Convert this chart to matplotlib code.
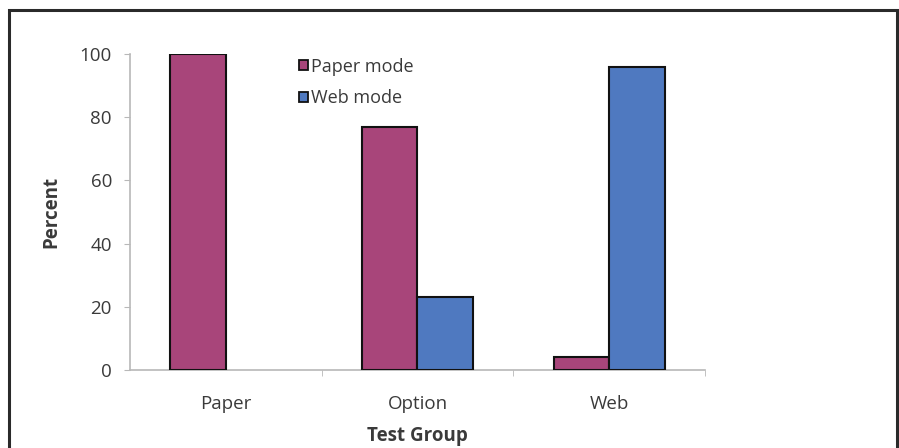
import matplotlib
matplotlib.use("Agg")
import matplotlib.pyplot as plt
from matplotlib.patches import Rectangle, Patch
import numpy as np

groups = ["Paper", "Option", "Web"]
paper_mode = [100, 77, 4]
web_mode = [0, 23, 96]
series_names = ["Paper mode", "Web mode"]
y_ticks = [0, 20, 40, 60, 80, 100]

pink = "#A8457A"
blue = "#4F79C0"
text_col = "#3a3a3a"
axis_col = "#b8b8b8"

plt.rcParams["font.family"] = ["Open Sans", "DejaVu Sans"]

fig = plt.figure(figsize=(8.99, 4.48), dpi=100)
ax = fig.add_axes([0.1446, 0.1741, 0.6396, 0.7054])

x = np.arange(len(groups))
w = 0.29
b1 = ax.bar(x - w / 2, paper_mode, w, color=pink, edgecolor="#111111",
            linewidth=1.5, zorder=3)
b2 = ax.bar(x + w / 2, web_mode, w, color=blue, edgecolor="#111111",
            linewidth=1.5, zorder=3)
# empty bars leave no outline on the baseline
for bars in (b1, b2):
    for r in bars:
        if r.get_height() == 0:
            r.set_visible(False)

ax.set_xlim(-0.5, 2.5)
ax.set_ylim(0, 100)
ax.set_yticks(y_ticks)
ax.set_xticks(x)
ax.set_xticklabels(groups)
ax.set_xticks([0.5, 1.5, 2.5], minor=True)

for s in ["top", "right"]:
    ax.spines[s].set_visible(False)
for s in ["left", "bottom"]:
    ax.spines[s].set_color(axis_col)
    ax.spines[s].set_linewidth(1.2)

ax.tick_params(axis="y", which="major", length=4, color=axis_col,
               labelsize=13.5, labelcolor=text_col, pad=9)
ax.tick_params(axis="x", which="major", length=0, labelsize=13.5,
               labelcolor=text_col, pad=18)
ax.tick_params(axis="x", which="minor", length=4, color=axis_col)

ax.set_ylabel("Percent", fontsize=13.5, fontweight="bold", color=text_col,
              labelpad=13)
ax.set_xlabel("Test Group", fontsize=13.5, fontweight="bold", color=text_col,
              labelpad=9)

handles = [Patch(facecolor=c, edgecolor="#111111", linewidth=1.3)
           for c in (pink, blue)]
ax.legend(handles, series_names, loc="upper left",
          bbox_to_anchor=(0.265, 1.04), frameon=False,
          fontsize=13, handlelength=0.5, handleheight=0.5,
          handletextpad=0.2, labelspacing=0.75, labelcolor=text_col)

# outer frame around the figure content
fig.patches.append(Rectangle((9 / 899, -0.05), 888 / 899, 1.05 - 10 / 448,
                             transform=fig.transFigure, fill=False,
                             edgecolor="#2a2a2a", linewidth=2.2))

fig.savefig("out.png", dpi=100)
